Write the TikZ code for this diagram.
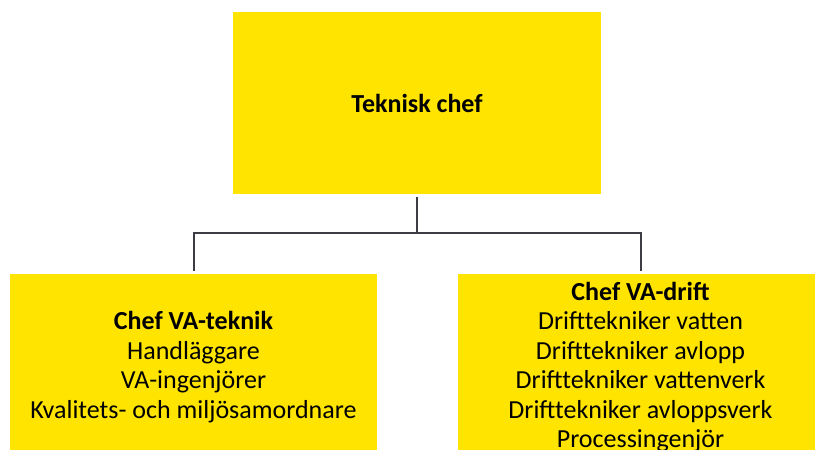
\documentclass[tikz,border=0pt]{standalone}
\usepackage{fontspec}
\setmainfont{Carlito}
\definecolor{chefyellow}{RGB}{255,228,0}
\definecolor{linegray}{RGB}{60,60,68}
\tikzset{
  orgbox/.style={fill=chefyellow, inner sep=0pt, align=center,
    font=\fontsize{26}{29.5}\selectfont},
  orglink/.style={draw=linegray, line width=2pt, shorten <=3pt, shorten >=3pt}
}
\begin{document}
\begin{tikzpicture}[x=1pt, y=-1pt]
    % frame
    \useasboundingbox (0, 0) rectangle (815, 450);
    \clip (0, 0) rectangle (815, 450);
    % boxes
    \node [orgbox, minimum width=368, minimum height=182] (chef) at (417, 103)
      {\textbf{Teknisk chef}};
    \node [orgbox, minimum width=367, minimum height=186] (teknik) at (193.5, 367)
      {\textbf{Chef VA-teknik}\\Handläggare\\VA-ingenjörer\\Kvalitets- och miljösamordnare};
    \node [orgbox, minimum width=365, minimum height=186] (drift) at (640.5, 367)
      {\textbf{Chef VA-drift}\\Drifttekniker vatten\\Drifttekniker avlopp\\Drifttekniker vattenverk\\Drifttekniker avloppsverk\\Processingenjör};
    % connectors
    \draw [orglink, shorten >=0pt] (chef.south) -- (chef.south |- 0, 233) coordinate (split);
    \draw [orglink, shorten <=0pt] (split) -| (teknik.north);
    \draw [orglink, shorten <=0pt] (split) -| (drift.north);
  \end{tikzpicture}
\end{document}
